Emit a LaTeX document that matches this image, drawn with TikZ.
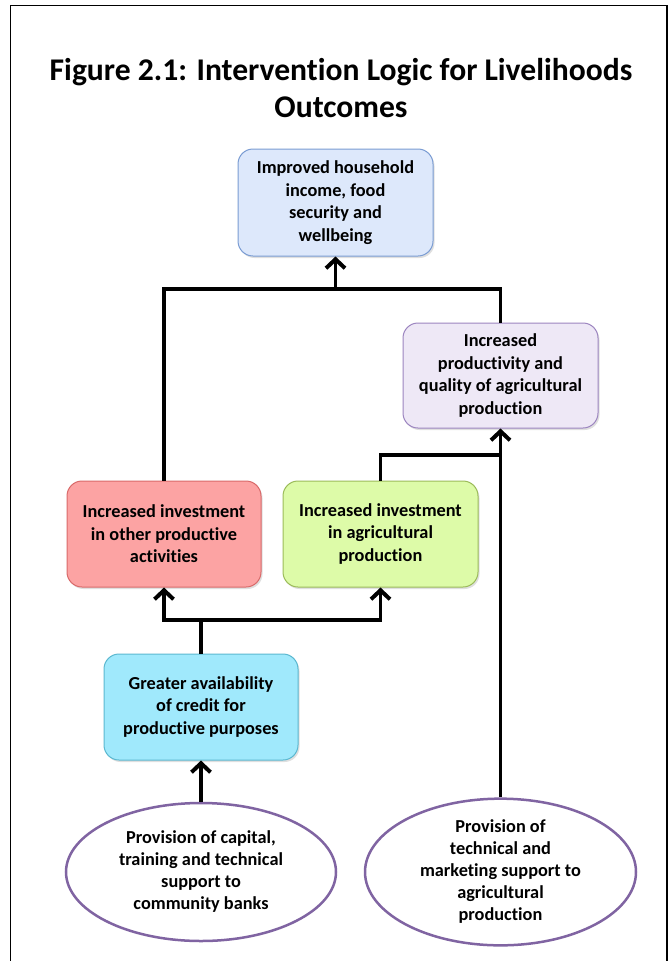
\documentclass[tikz,border=0pt]{standalone}
\usepackage{fontspec}
\setmainfont{Carlito}[Ligatures=NoCommon]
\usetikzlibrary{shapes.geometric,arrows.meta,shadows}
\definecolor{topfill}{HTML}{DDE8FB}
\definecolor{topdraw}{HTML}{7A9CD3}
\definecolor{purfill}{HTML}{EEE8F6}
\definecolor{purdraw}{HTML}{9C85C0}
\definecolor{redfill}{HTML}{FCA3A3}
\definecolor{reddraw}{HTML}{D96A6A}
\definecolor{grnfill}{HTML}{DDFBA8}
\definecolor{grndraw}{HTML}{9BBB59}
\definecolor{cyanfill}{HTML}{A0E9FC}
\definecolor{cyandraw}{HTML}{5BB8D0}
\definecolor{elldraw}{HTML}{8064A2}
\tikzset{
  box/.style={rectangle, rounded corners=15pt, line width=1pt, align=center,
    inner sep=0pt, font=\fontsize{18.3}{22.5}\selectfont\bfseries,
    drop shadow={opacity=0.25, shadow xshift=1.5pt, shadow yshift=-2pt}},
  ell/.style={ellipse, draw=elldraw, line width=2.5pt, fill=white, align=center,
    inner sep=0pt, font=\fontsize{18.3}{22}\selectfont\bfseries},
  wire/.style={line width=3.5pt, line join=miter},
  conn/.style={wire, -{Straight Barb[length=9pt,width=19pt,line width=4pt]}},
}
\begin{document}
\begin{tikzpicture}[x=1pt,y=-1pt]
\useasboundingbox (0,0) rectangle (670,961);
\fill[white] (0,0) rectangle (670,961);
% frame
\draw[line width=1.5pt] (10.5,961) -- (10.5,5.5) -- (667,5.5) -- (667,961);
% title
\node[align=center, font=\fontsize{31.6}{37}\selectfont\bfseries] (title) at (341,88)
  {Figure 2.1: Intervention Logic for Livelihoods\\Outcomes};
% boxes
\node[box, fill=topfill, draw=topdraw, minimum width=195pt, minimum height=107pt] (top) at (335.5,202.5)
  {Improved household\\income, food\\security and\\wellbeing};
\node[box, fill=purfill, draw=purdraw, minimum width=195pt, minimum height=105pt] (pur) at (500.5,375.5)
  {Increased\\productivity and\\quality of agricultural\\production};
\node[box, fill=redfill, draw=reddraw, minimum width=194pt, minimum height=106pt] (red) at (164,534)
  {Increased investment\\in other productive\\activities};
\node[box, fill=grnfill, draw=grndraw, minimum width=195pt, minimum height=106pt] (grn) at (380.5,534)
  {Increased investment\\in agricultural\\production};
\node[box, fill=cyanfill, draw=cyandraw, minimum width=194pt, minimum height=106pt] (cyan) at (201,707)
  {Greater availability\\of credit for\\productive purposes};
\node[ell, minimum width=270pt, minimum height=138pt] (ellL) at (201,872)
  {Provision of capital,\\training and technical\\support to\\community banks};
\node[ell, minimum width=271pt, minimum height=138pt] (ellR) at (500.5,872)
  {Provision of\\technical and\\marketing support to\\agricultural\\production};
% junctions
\coordinate (jc) at (201,620);
\coordinate (jt) at (335.5,289);
\coordinate (ja) at (500.5,455);
% connectors
\draw[conn] (ellL.north) -- (cyan.south);
\draw[wire] (cyan.north) -- (jc);
\draw[conn] (jc) -| (red.south);
\draw[conn] (jc) -| (grn.south);
\draw[wire] (red.north) |- (jt) -| (pur.north);
\draw[conn] (jt) -- (top.south);
\draw[wire] (grn.north) |- (ja);
\draw[conn] (ellR.north) -- (pur.south);
\end{tikzpicture}
\end{document}
